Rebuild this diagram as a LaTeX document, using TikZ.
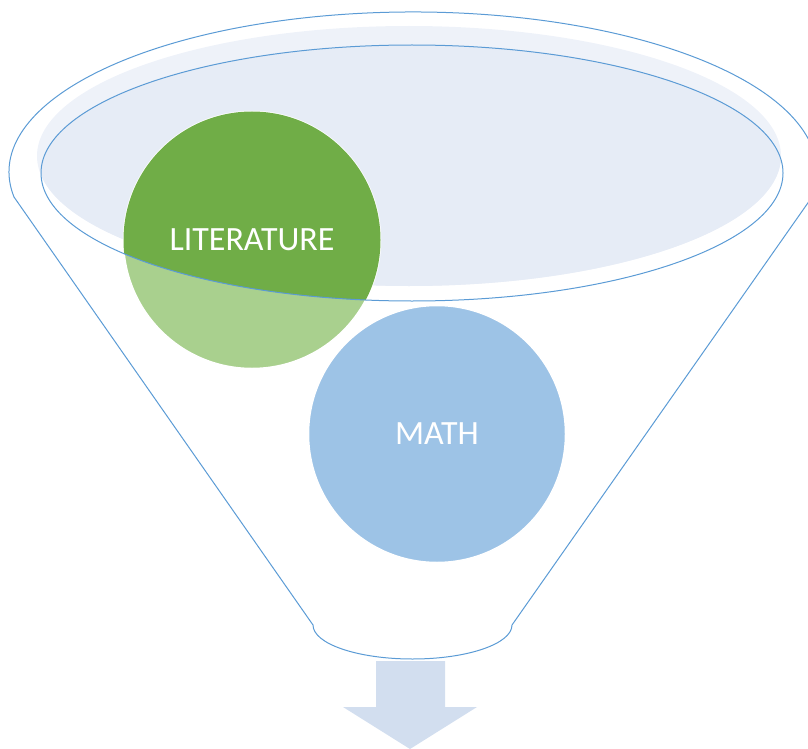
\documentclass[tikz,border=0pt]{standalone}
\usepackage{fontspec}
\setmainfont{Carlito}
\definecolor{linebl}{HTML}{5B9BD5}
\definecolor{bandfill}{HTML}{EEF2F9}
\definecolor{innerfill}{HTML}{E6ECF6}
\definecolor{darkgreen}{HTML}{70AD47}
\definecolor{lightgreen}{HTML}{A9D08E}
\definecolor{mathblue}{HTML}{9DC3E6}
\definecolor{arrowfill}{HTML}{D2DEEF}
\tikzset{
  funnel/.style={draw=linebl, line width=1pt},
  lbl/.style={text=white, font=\fontsize{34}{38}\selectfont},
  circ/.style={circle, minimum size=257pt, inner sep=0pt, draw=white, line width=1.5pt, lbl},
}
\begin{document}
\begin{tikzpicture}[x=1pt,y=-1pt]
\useasboundingbox (0,0) rectangle (808,749);
% rim fill
\fill[bandfill] (409,156) ellipse [x radius=372, y radius=130];
\begin{scope}
  \clip (412,173) ellipse [x radius=371, y radius=128];
  \fill[innerfill] (409,156) ellipse [x radius=372, y radius=130];
\end{scope}
% literature circle
\node[circ, fill=lightgreen] (litbase) at (252,240) {};
\begin{scope}
  \clip (412,173) ellipse [x radius=371, y radius=128];
  \fill[darkgreen] (litbase.center) circle [radius=128.5];
\end{scope}
\node[lbl] (lit) at (litbase.center) {LITERATURE};
% inner rim
\draw[funnel] (412,173) ellipse [x radius=371, y radius=128];
% outer funnel
\draw[funnel] (14,197) arc [start angle=171, end angle=369, x radius=404, y radius=160]
  -- (512,625) arc [start angle=0, end angle=180, x radius=99.5, y radius=34] -- cycle;
% math circle
\node[circ, fill=mathblue] (math) at (437,434) {MATH};
% arrow
\fill[arrowfill] (376,661) -- (445,661) -- (445,707) -- (477,707) -- (410,749) -- (343,707) -- (376,707) -- cycle;
\end{tikzpicture}
\end{document}
